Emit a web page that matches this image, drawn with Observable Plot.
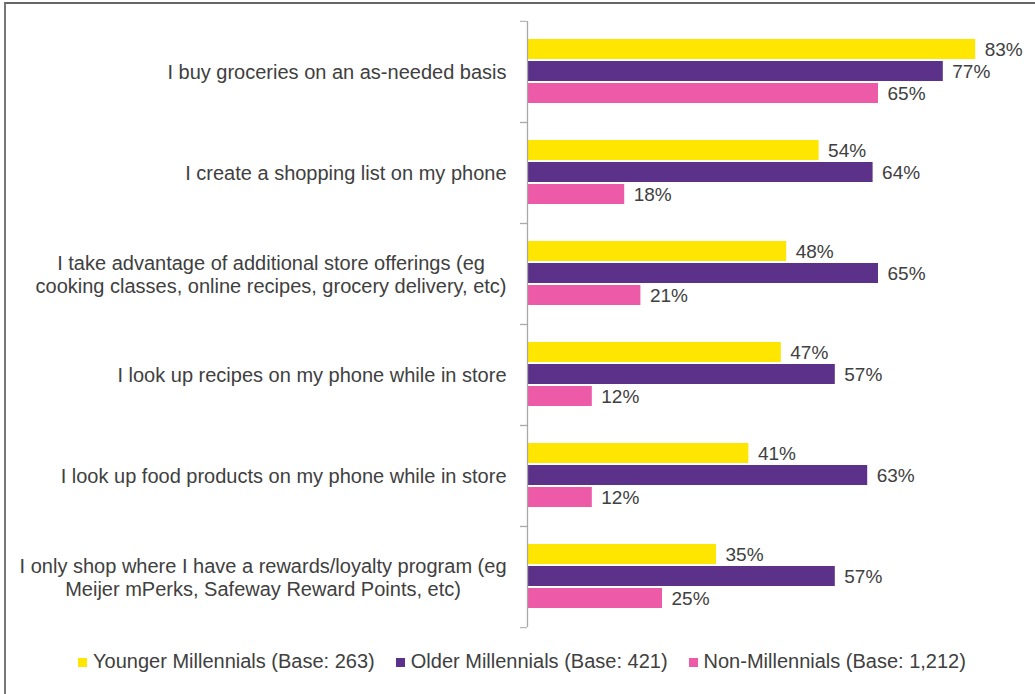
<!DOCTYPE html>
<html>
<head>
<meta charset="utf-8">
<script src="https://cdn.jsdelivr.net/npm/d3@7"></script>
<script src="https://cdn.jsdelivr.net/npm/@observablehq/plot@0.6"></script>
<style>
  html, body { margin: 0; padding: 0; background: #fff; }
  body { width: 1035px; height: 694px; position: relative; overflow: hidden;
         font-family: "Liberation Sans", Arial, sans-serif; }
  #frame { position: absolute; left: 4px; top: 2px; right: 0; bottom: 0;
           border-top: 2px solid #666; border-left: 2px solid #777; }
  #chart { position: absolute; left: 0; top: 0; }
  #chart svg { overflow: visible; }
  #legend { position: absolute; left: 0; top: 650px; width: 1035px; padding-left: 9px; box-sizing: border-box;
            display: flex; justify-content: center; gap: 21px; font-size: 20px; color: #404040; }
  .item { display: flex; align-items: center; }
  .sw { width: 9px; height: 9px; margin-right: 6px; margin-top: 2px; }
</style>
</head>
<body>
<div id="frame"></div>
<div id="chart"></div>
<div id="legend"></div>
<script>
// ---- Data ----
const categories = [
  "I buy groceries on an as-needed basis",
  "I create a shopping list on my phone",
  "I take advantage of additional store offerings (eg\ncooking classes, online recipes, grocery delivery, etc)",
  "I look up recipes on my phone while in store",
  "I look up food products on my phone while in store",
  "I only shop where I have a rewards/loyalty program (eg\nMeijer mPerks, Safeway Reward Points, etc)"
];
const series = [
  "Younger Millennials (Base: 263)",
  "Older Millennials (Base: 421)",
  "Non-Millennials (Base: 1,212)"
];
const youngerValues = [83, 54, 48, 47, 41, 35];
const olderValues   = [77, 64, 65, 57, 63, 57];
const nonValues     = [65, 18, 21, 12, 12, 25];
const colors = ["#FFE600", "#5C3189", "#EC5AA8"];

// ---- Table ----
const seriesValues = [youngerValues, olderValues, nonValues];
const rows = [];
categories.forEach((c, i) => series.forEach((s, j) => rows.push({category: c, series: s, value: seriesValues[j][i]})));

// ---- Layout ----
const W = 1035, H = 640, mTop = 20, mBottom = 12, mLeft = 527, mRight = 22;
const step = (H - mTop - mBottom) / categories.length;
const textColor = "#404040";
const axisColor = "#a8a8a8";

// measure label widths for centered multi-line labels
const ctx = document.createElement("canvas").getContext("2d");
ctx.font = "20px 'Liberation Sans', Arial, sans-serif";
const labelWidth = c => Math.max(...c.split("\n").map(l => ctx.measureText(l).width));
const gap = 21;

const labelMarks = categories.map(c => Plot.text([c], {
  fy: d => d, text: d => d, frameAnchor: "left", textAnchor: "middle",
  dx: -(gap + labelWidth(c) / 2), fontSize: 20, lineHeight: 1.15, fill: textColor
}));

const chart = Plot.plot({
  width: W, height: H,
  marginTop: mTop, marginBottom: mBottom, marginLeft: mLeft, marginRight: mRight,
  style: {fontFamily: "'Liberation Sans', Arial, sans-serif", background: "transparent", overflow: "visible"},
  x: {domain: [0, 90], axis: null},
  y: {domain: series, paddingInner: 0.08, paddingOuter: 0.75, axis: null},
  fy: {domain: categories, padding: 0},
  color: {domain: series, range: colors},
  marks: [
    Plot.barX(rows, {x: "value", y: "series", fy: "category", fill: "series"}),
    Plot.text(rows, {x: "value", y: "series", fy: "category", text: d => d.value + "%",
      textAnchor: "start", dx: 9, fontSize: 19, fill: textColor}),
    Plot.ruleX([0], {stroke: axisColor, strokeWidth: 1.3}),
    Plot.axisFy({anchor: "left", tickSize: 7, tickFormat: () => "", dy: -step / 2, stroke: axisColor, label: null}),
    Plot.axisFy({anchor: "left", tickSize: 7, tickFormat: () => "", dy: step / 2, stroke: axisColor, label: null}),
    ...labelMarks
  ]
});
document.getElementById("chart").appendChild(chart);

// ---- Legend ----
const legend = document.getElementById("legend");
series.forEach((s, j) => {
  const item = document.createElement("div");
  item.className = "item";
  const sw = document.createElement("span");
  sw.className = "sw";
  sw.style.background = colors[j];
  const t = document.createElement("span");
  t.textContent = s;
  item.appendChild(sw); item.appendChild(t);
  legend.appendChild(item);
});
</script>
</body>
</html>
